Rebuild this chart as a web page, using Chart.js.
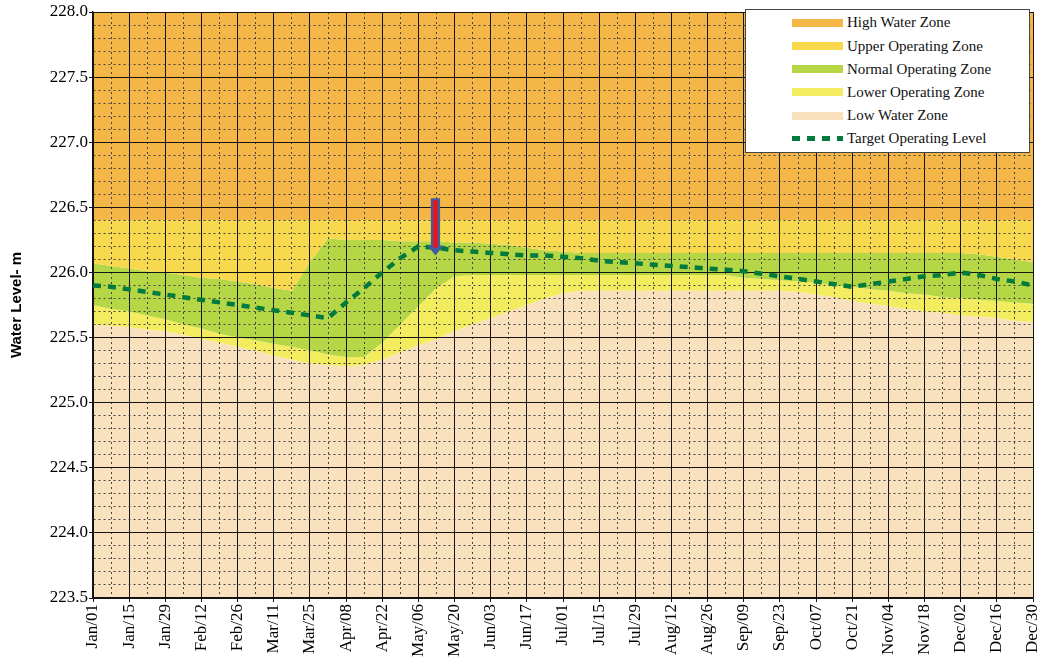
<!DOCTYPE html>
<html>
<head>
<meta charset="utf-8">
<script src="https://cdn.jsdelivr.net/npm/chart.js@4"></script>
<style>
  body { margin: 0; background: #fff; }
  #wrap { position: relative; width: 1038px; height: 657px; }
  #legend {
    position: absolute; left: 745px; top: 9px; width: 285px; height: 144px;
    background: #fff; border: 1px solid #444; box-sizing: border-box;
    font-family: "Liberation Serif", "Times New Roman", serif; font-size: 15px; color: #111;
  }
  .item { position: absolute; left: 46px; height: 23px; display: flex; align-items: center; white-space: nowrap; }
  .swatch { width: 51px; height: 8px; margin-right: 4px; }
</style>
</head>
<body>
<div id="wrap">
  <canvas id="levels" width="1038" height="657"></canvas>
  <div id="legend"></div>
</div>
<script>
// weekly dates (leap year)
const weeks = [
  'Jan/01', 'Jan/08', 'Jan/15', 'Jan/22', 'Jan/29', 'Feb/05', 'Feb/12', 'Feb/19', 'Feb/26',
  'Mar/04', 'Mar/11', 'Mar/18', 'Mar/25', 'Apr/01', 'Apr/08', 'Apr/15', 'Apr/22', 'Apr/29',
  'May/06', 'May/13', 'May/20', 'May/27', 'Jun/03', 'Jun/10', 'Jun/17', 'Jun/24',
  'Jul/01', 'Jul/08', 'Jul/15', 'Jul/22', 'Jul/29', 'Aug/05', 'Aug/12', 'Aug/19', 'Aug/26',
  'Sep/02', 'Sep/09', 'Sep/16', 'Sep/23', 'Sep/30', 'Oct/07', 'Oct/14', 'Oct/21', 'Oct/28',
  'Nov/04', 'Nov/11', 'Nov/18', 'Nov/25', 'Dec/02', 'Dec/09', 'Dec/16', 'Dec/23', 'Dec/30',
];

// zone boundaries, m
const upperZoneTop = [
  226.4, 226.4, 226.4, 226.4, 226.4, 226.4, 226.4, 226.4, 226.4, 226.4, 226.4,
  226.4, 226.4, 226.4, 226.4, 226.4, 226.4, 226.4, 226.4, 226.4, 226.4, 226.4,
  226.4, 226.4, 226.4, 226.4, 226.4, 226.4, 226.4, 226.4, 226.4, 226.4, 226.4,
  226.4, 226.4, 226.4, 226.4, 226.4, 226.4, 226.4, 226.4, 226.4, 226.4, 226.4,
  226.4, 226.4, 226.4, 226.4, 226.4, 226.4, 226.4, 226.4, 226.4,
];
const normalZoneTop = [
  226.07, 226.05, 226.03, 226.01, 226.00, 225.98, 225.96, 225.95, 225.93, 225.91,
  225.88, 225.86, 226.08, 226.26, 226.25, 226.25, 226.25, 226.24, 226.24, 226.24,
  226.23, 226.23, 226.22, 226.21, 226.19, 226.17, 226.16, 226.15, 226.15, 226.15,
  226.15, 226.15, 226.15, 226.15, 226.15, 226.15, 226.15, 226.15, 226.15, 226.15,
  226.15, 226.15, 226.15, 226.15, 226.15, 226.15, 226.15, 226.15, 226.15, 226.14,
  226.12, 226.10, 226.08,
];
const normalZoneBottom = [
  225.75, 225.72, 225.70, 225.67, 225.64, 225.60, 225.57, 225.53, 225.50, 225.48,
  225.45, 225.43, 225.40, 225.37, 225.35, 225.35, 225.46, 225.60, 225.74, 225.88,
  225.97, 225.98, 225.98, 225.98, 225.98, 225.98, 225.98, 225.98, 225.98, 225.98,
  225.98, 225.98, 225.98, 225.98, 225.98, 225.98, 225.96, 225.95, 225.94, 225.93,
  225.92, 225.90, 225.89, 225.87, 225.86, 225.84, 225.83, 225.81, 225.80, 225.79,
  225.78, 225.77, 225.76,
];
const lowZoneTop = [
  225.60, 225.59, 225.58, 225.56, 225.55, 225.52, 225.49, 225.46, 225.43, 225.40,
  225.36, 225.33, 225.30, 225.29, 225.28, 225.29, 225.33, 225.39, 225.44, 225.49,
  225.55, 225.60, 225.65, 225.70, 225.75, 225.80, 225.84, 225.86, 225.86, 225.86,
  225.86, 225.86, 225.86, 225.86, 225.86, 225.86, 225.86, 225.86, 225.86, 225.85,
  225.83, 225.81, 225.78, 225.76, 225.74, 225.72, 225.70, 225.69, 225.67, 225.66,
  225.65, 225.63, 225.62,
];
const targetLevel = [
  225.90, 225.89, 225.87, 225.85, 225.83, 225.81, 225.79, 225.77, 225.75, 225.73,
  225.71, 225.69, 225.67, 225.65, 225.77, 225.88, 226.00, 226.11, 226.20, 226.19,
  226.17, 226.16, 226.15, 226.14, 226.13, 226.13, 226.12, 226.11, 226.09, 226.08,
  226.07, 226.06, 226.05, 226.04, 226.03, 226.02, 226.01, 225.99, 225.97, 225.95,
  225.93, 225.91, 225.89, 225.91, 225.93, 225.95, 225.97, 225.98, 226.00, 225.98,
  225.95, 225.93, 225.90,
];

// red arrow marker
const arrowWeek = 'May/13';
const arrowTop = 226.57;
const arrowTip = 226.13;

const serif = '"Liberation Serif", "Times New Roman", serif';
const solid = '#141414';
const dotted = '#444';

function isMajor(v) {
  return Math.abs(v * 2 - Math.round(v * 2)) < 1e-6;
}

function zone(label, data, color, fill) {
  return {
    label: label,
    data: data,
    backgroundColor: color,
    borderColor: 'rgba(0,0,0,0)',
    borderWidth: 0,
    pointRadius: 0,
    fill: fill,
  };
}

const arrowPlugin = {
  id: 'arrow',
  afterDatasetsDraw(chart) {
    const { ctx, scales: { x, y } } = chart;
    const px = x.getPixelForValue(weeks.indexOf(arrowWeek)) - 1;
    const top = y.getPixelForValue(arrowTop);
    const tip = y.getPixelForValue(arrowTip);
    const headTop = tip - 10;
    ctx.save();
    ctx.fillStyle = '#3f5e9e';
    ctx.beginPath();
    ctx.moveTo(px - 4.6, top);
    ctx.lineTo(px + 4.6, top);
    ctx.lineTo(px + 4.6, headTop);
    ctx.lineTo(px + 8, headTop);
    ctx.lineTo(px, tip);
    ctx.lineTo(px - 8, headTop);
    ctx.lineTo(px - 4.6, headTop);
    ctx.closePath();
    ctx.fill();
    ctx.fillStyle = '#e8141c';
    ctx.fillRect(px - 2.3, top + 2, 4.6, headTop - top);
    ctx.restore();
  },
};

function buildLegend(chart) {
  const legend = document.getElementById('legend');
  const zones = chart.data.datasets.filter(ds => ds.fill !== false);
  const lines = chart.data.datasets.filter(ds => ds.fill === false);
  zones.concat(lines).forEach((ds, i) => {
    const item = document.createElement('div');
    item.className = 'item';
    item.style.top = (1.3 + i * 23.2) + 'px';
    const sw = document.createElement('span');
    sw.className = 'swatch';
    if (ds.fill === false) {
      sw.style.height = '5px';
      sw.style.background = `repeating-linear-gradient(to right, ${ds.borderColor} 0 8px, transparent 8px 15px)`;
    } else {
      sw.style.background = ds.backgroundColor;
    }
    const txt = document.createElement('span');
    txt.textContent = ds.label;
    item.appendChild(sw);
    item.appendChild(txt);
    legend.appendChild(item);
  });
}

function setUpChart() {
  const canvas = document.getElementById('levels');

  const chart = new Chart(canvas, {
    type: 'line',
    data: {
      labels: weeks,
      datasets: [
        // line first: a fill target of index 0 is ignored by the filler
        {
          label: 'Target Operating Level',
          data: targetLevel,
          borderColor: '#007a3d',
          borderWidth: 4.5,
          borderDash: [8, 7],
          borderCapStyle: 'butt',
          pointRadius: 0,
          fill: false,
          tension: 0,
        },
        zone('High Water Zone', upperZoneTop, '#f4b646', 'end'),
        zone('Upper Operating Zone', normalZoneTop, '#f8d84c', '-1'),
        zone('Normal Operating Zone', normalZoneBottom, '#b5d645', '-1'),
        zone('Lower Operating Zone', lowZoneTop, '#f4ec5f', '-1'),
        zone('Low Water Zone', lowZoneTop, '#fae1be', 'start'),
      ],
    },
    options: {
      responsive: false,
      animation: false,
      devicePixelRatio: 1,
      layout: { padding: { top: 12, right: 5, left: 0, bottom: 0 } },
      plugins: {
        legend: { display: false },
        tooltip: { enabled: false },
        filler: { drawTime: 'beforeDraw' },
      },
      scales: {
        x: {
          offset: false,
          grid: {
            color: c => (c.index % 2 ? dotted : solid),
            tickLength: 4,
            tickColor: c => (c.index % 2 ? 'rgba(0,0,0,0)' : solid),
          },
          border: { color: solid, width: 1.5, dash: c => (c.index % 2 ? [2, 3] : []) },
          ticks: {
            autoSkip: false,
            maxRotation: 90,
            minRotation: 90,
            padding: 2,
            color: '#000',
            font: { family: serif, size: 17 },
            callback: (v, i) => (i % 2 ? '' : weeks[i]),
          },
          afterFit: s => {
            s.height = 59;
            s.paddingLeft = 0;
            s.paddingRight = 0;
          },
        },
        y: {
          min: 223.5,
          max: 228,
          grid: {
            color: c => (c.tick && !isMajor(c.tick.value) ? dotted : solid),
            tickLength: 4,
            tickColor: c => (c.tick && !isMajor(c.tick.value) ? 'rgba(0,0,0,0)' : solid),
          },
          border: { color: solid, width: 1.5, dash: c => (c.tick && !isMajor(c.tick.value) ? [2, 3] : []) },
          ticks: {
            stepSize: 0.1,
            autoSkip: false,
            padding: 1,
            color: '#000',
            font: { family: serif, size: 17 },
            callback: v => (isMajor(v) ? v.toFixed(1) : ''),
          },
          title: {
            display: true,
            text: 'Water Level- m',
            color: '#000',
            font: { family: '"Liberation Sans", Arial, sans-serif', size: 15, weight: 'bold' },
            padding: { top: 8, bottom: 0 },
          },
          afterFit: s => {
            s.width = 93;
          },
        },
      },
    },
    plugins: [arrowPlugin],
  });

  buildLegend(chart);
}

document.fonts.load('17px "Liberation Serif"')
  .then(() => document.fonts.load('bold 15px "Liberation Sans"'))
  .catch(() => {})
  .then(setUpChart);
</script>
</body>
</html>
